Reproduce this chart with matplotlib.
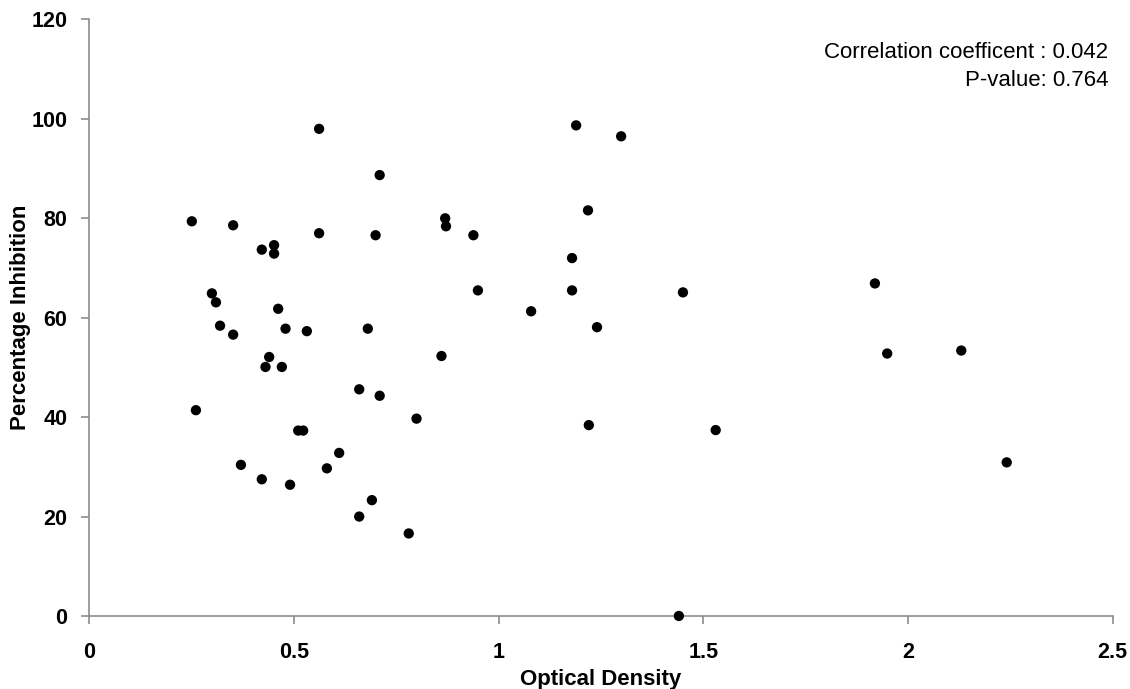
import matplotlib
matplotlib.use("Agg")
import matplotlib.pyplot as plt

optical_density = [0.250, 0.260, 0.299, 0.309, 0.319, 0.351, 0.351, 0.370, 0.421, 0.421,
                   0.430, 0.439, 0.451, 0.451, 0.461, 0.470, 0.479, 0.490, 0.510, 0.522,
                   0.531, 0.561, 0.561, 0.580, 0.610, 0.659, 0.659, 0.680, 0.690, 0.699,
                   0.709, 0.709, 0.780, 0.799, 0.860, 0.869, 0.871, 0.938, 0.949, 1.079,
                   1.189, 1.218, 1.179, 1.179, 1.240, 1.299, 1.450, 1.220, 1.440, 1.530,
                   1.919, 1.949, 2.130, 2.241]
percentage_inhibition = [79.4, 41.4, 64.9, 63.1, 58.4, 78.6, 56.6, 30.4, 73.7, 27.5,
                         50.1, 52.1, 74.6, 72.9, 61.8, 50.1, 57.8, 26.4, 37.3, 37.3,
                         57.3, 98.0, 77.0, 29.7, 32.8, 45.6, 20.0, 57.8, 23.3, 76.6,
                         88.7, 44.3, 16.6, 39.7, 52.3, 80.0, 78.4, 76.6, 65.5, 61.3,
                         98.7, 81.6, 72.0, 65.5, 58.1, 96.5, 65.1, 38.4, 0.0, 37.4,
                         66.9, 52.8, 53.4, 30.9]

x_ticks = [0, 0.5, 1, 1.5, 2, 2.5]
x_tick_labels = ["0", "0.5", "1", "1.5", "2", "2.5"]
y_ticks = [0, 20, 40, 60, 80, 100, 120]
y_tick_labels = ["0", "20", "40", "60", "80", "100", "120"]
annotation_line1 = "Correlation coefficent : 0.042"
annotation_line2 = "P-value: 0.764"

plt.rcParams['font.family'] = ['Liberation Sans', 'DejaVu Sans']

fig = plt.figure(figsize=(11.30, 6.89), dpi=100)
ax = fig.add_axes([0.0792, 0.106, 0.9055, 0.8657])

ax.scatter(optical_density, percentage_inhibition, s=55, color='black',
           edgecolors='none', zorder=3, clip_on=False)

ax.set_xlim(0, 2.5)
ax.set_ylim(0, 120)
ax.set_xticks(x_ticks)
ax.set_xticklabels(x_tick_labels, fontsize=15.5, fontweight='bold')
ax.set_yticks(y_ticks)
ax.set_yticklabels(y_tick_labels, fontsize=15.5, fontweight='bold')

for side in ['top', 'right']:
    ax.spines[side].set_visible(False)
for side in ['left', 'bottom']:
    ax.spines[side].set_color('#8c8c8c')
    ax.spines[side].set_linewidth(1.2)
ax.tick_params(axis='both', direction='out', length=6, width=1.2, color='#8c8c8c',
               labelcolor='black')
ax.tick_params(axis='x', pad=13)
ax.tick_params(axis='y', pad=10)

ax.set_xlabel("Optical Density", fontsize=16, fontweight='bold', labelpad=4)
ax.set_ylabel("Percentage Inhibition", fontsize=16, fontweight='bold', labelpad=0)

ax.text(0.9955, 0.945, annotation_line1, transform=ax.transAxes,
        ha='right', va='center', fontsize=16)
ax.text(0.9955, 0.898, annotation_line2, transform=ax.transAxes,
        ha='right', va='center', fontsize=16)

fig.savefig("out.png", dpi=100)
